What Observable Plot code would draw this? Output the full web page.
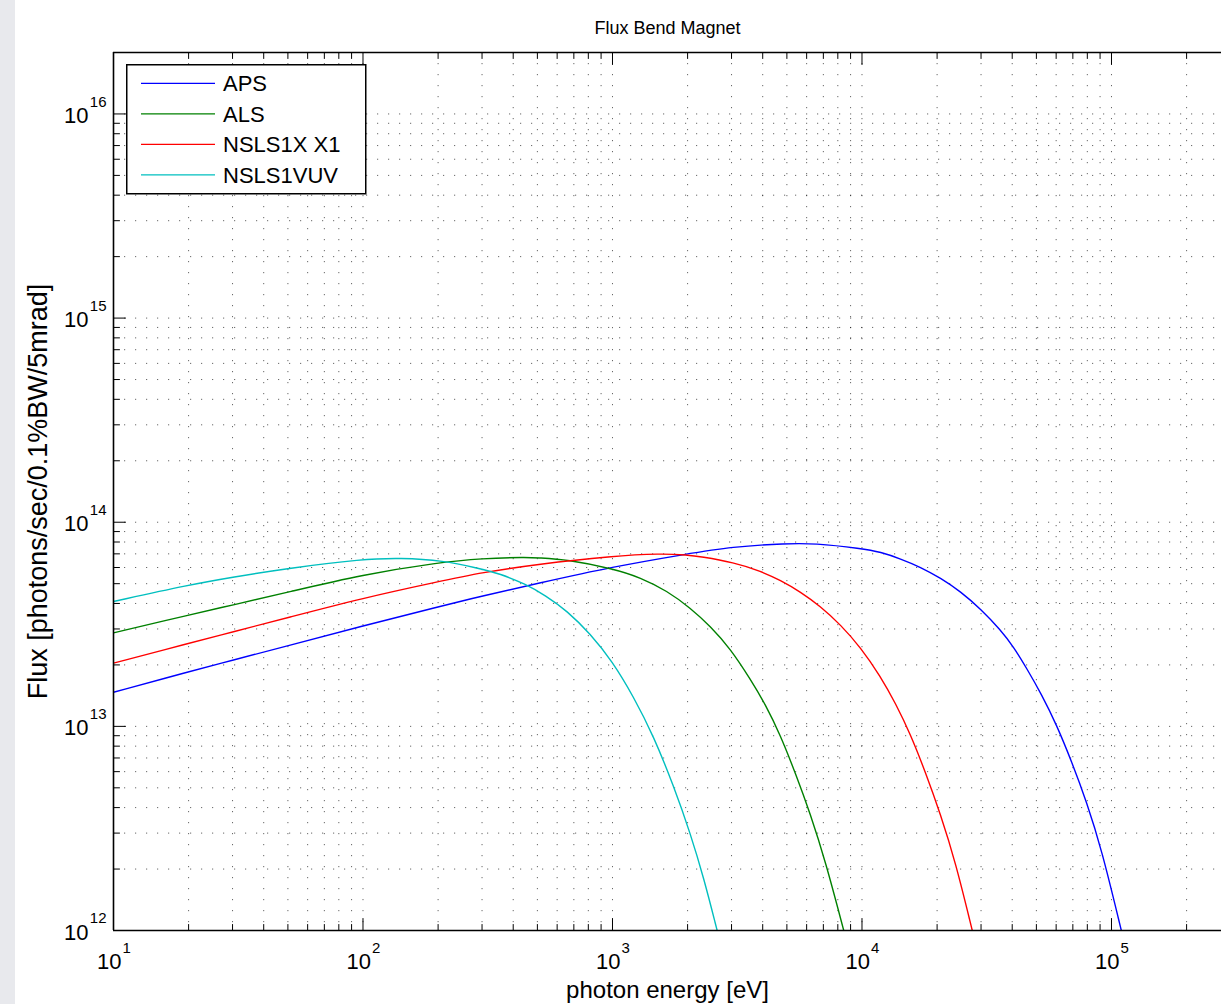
<!DOCTYPE html>
<html>
<head>
<meta charset="utf-8">
<script src="https://cdn.jsdelivr.net/npm/d3@7"></script>
<script src="https://cdn.jsdelivr.net/npm/@observablehq/plot@0.6"></script>
<style>
  body { margin: 0; background: #fff; }
  #wrap { position: relative; width: 1221px; height: 1004px; overflow: hidden; font-family: "Liberation Sans", Arial, Helvetica, sans-serif; }
  #strip { position: absolute; left: 0; top: 0; width: 15px; height: 1004px; background: #e8e9ed; }
  #legend { position: absolute; left: 126px; top: 64px; }
</style>
</head>
<body>
<div id="wrap"><div id="chart"></div><div id="strip"></div><div id="legend"></div></div>
<script>
// ---- data ----
const seriesNames = ["APS", "ALS", "NSLS1X X1", "NSLS1VUV"];
const seriesColors = ["#0000ff", "#008000", "#ff0000", "#00bfbf"];

const apsEnergy = [10, 20, 30, 50, 100, 200, 300, 500, 1000, 2000, 3000, 5000, 6390, 10000, 11870, 14270, 17160, 20640, 24830, 29870, 35920, 40610, 45650, 52460, 60260, 69180, 79470, 91280, 109500];
const apsFlux   = [1.47e13, 1.85e13, 2.11e13, 2.48e13, 3.11e13, 3.85e13, 4.35e13, 5.01e13, 6.05e13, 7.00e13, 7.58e13, 7.87e13, 7.89e13, 7.43e13, 7.15e13, 6.62e13, 6.03e13, 5.33e13, 4.58e13, 3.76e13, 2.97e13, 2.44e13, 1.93e13, 1.434e13, 1.017e13, 6.74e12, 4.27e12, 2.50e12, 1.0e12];

const alsEnergy = [10, 20, 30, 50, 100, 200, 300, 455, 500, 658, 1011, 1294, 1655, 2053, 2469, 2970, 3572, 4102, 4712, 5412, 6216, 7138, 8450];
const alsFlux   = [2.87e13, 3.51e13, 3.93e13, 4.54e13, 5.54e13, 6.34e13, 6.65e13, 6.74e13, 6.69e13, 6.57e13, 5.91e13, 5.36e13, 4.61e13, 3.80e13, 3.09e13, 2.40e13, 1.70e13, 1.281e13, 9.03e12, 5.89e12, 3.71e12, 2.18e12, 1.0e12];

const x1Energy = [10, 20, 30, 50, 100, 200, 300, 500, 1000, 1560, 2000, 2251, 3062, 3917, 4712, 5668, 6817, 8201, 9863, 11870, 13630, 15650, 17970, 20640, 23710, 27670];
const x1Flux   = [2.04e13, 2.55e13, 2.90e13, 3.41e13, 4.25e13, 5.11e13, 5.67e13, 6.23e13, 6.83e13, 7.03e13, 6.91e13, 6.79e13, 6.35e13, 5.77e13, 5.19e13, 4.56e13, 3.87e13, 3.15e13, 2.44e13, 1.757e13, 1.296e13, 9.14e12, 5.95e12, 3.71e12, 2.16e12, 1.0e12];

const vuvEnergy = [10, 20, 30, 50, 100, 141, 210.5, 286.5, 355.2, 447.5, 538.2, 658, 815, 996, 1216, 1463, 1760, 2053, 2321, 2627];
const vuvFlux   = [4.09e13, 4.93e13, 5.38e13, 5.95e13, 6.60e13, 6.69e13, 6.49e13, 5.97e13, 5.59e13, 4.98e13, 4.38e13, 3.68e13, 2.84e13, 2.09e13, 1.394e13, 8.93e12, 5.09e12, 2.98e12, 1.81e12, 1.0e12];

const xMajor = [1e1, 1e2, 1e3, 1e4, 1e5];
const xExp = ["1", "2", "3", "4", "5"];
const yMajor = [1e12, 1e13, 1e14, 1e15, 1e16];
const yExp = ["12", "13", "14", "15", "16"];
const xDomain = [10, 2.76e5];
const yDomain = [1e12, 2e16];

const titleText = "Flux Bend Magnet";
const xLabel = "photon energy [eV]";
const yLabel = "Flux [photons/sec/0.1%BW/5mrad]";

// ---- build tables ----
const energies = [apsEnergy, alsEnergy, x1Energy, vuvEnergy];
const fluxes = [apsFlux, alsFlux, x1Flux, vuvFlux];
const rows = seriesNames.flatMap((name, i) => energies[i].map((e, j) => ({series: name, energy: e, flux: fluxes[i][j]})));

const xMinor = [];
for (const d of xMajor) for (let m = 2; m <= 9; m++) if (d * m < xDomain[1]) xMinor.push(d * m);
const yMinor = [];
for (const d of yMajor) for (let m = 2; m <= 9; m++) if (d * m < yDomain[1]) yMinor.push(d * m);

const font = "Liberation Sans, Arial, Helvetica, sans-serif";
const tickShape = {draw(ctx, l) { ctx.moveTo(0, 0); ctx.lineTo(0, -l); }};
const tk = (anchor, rot, len) => ({frameAnchor: anchor, rotate: rot, length: len, anchor: "start", shape: tickShape, stroke: "#000", strokeWidth: 1});
const grid = {stroke: "#000", strokeOpacity: 0.6, strokeWidth: 1, strokeDasharray: "1.2,9.8"};
const txt = {fill: "#000", lineAnchor: "middle"};

const chart = Plot.plot({
  width: 1221,
  height: 1004,
  marginLeft: 113,
  marginRight: 0,
  marginTop: 52,
  marginBottom: 74,
  style: {background: "transparent", fontFamily: font, overflow: "visible"},
  x: {type: "log", domain: xDomain, axis: null},
  y: {type: "log", domain: yDomain, axis: null},
  color: {domain: seriesNames, range: seriesColors},
  marks: [
    Plot.ruleX([...xMajor, ...xMinor], {x: d => d, ...grid}),
    Plot.ruleY([...yMajor, ...yMinor], {y: d => d, ...grid}),
    Plot.line(rows, {x: "energy", y: "flux", z: "series", stroke: "series", strokeWidth: 1.4, curve: "basis", clip: true}),
    Plot.vector(xMajor, {x: d => d, ...tk("bottom", 0, 12)}),
    Plot.vector(xMinor, {x: d => d, ...tk("bottom", 0, 6)}),
    Plot.vector(xMajor, {x: d => d, ...tk("top", 180, 12)}),
    Plot.vector(xMinor, {x: d => d, ...tk("top", 180, 6)}),
    Plot.vector(yMajor, {y: d => d, ...tk("left", 90, 12)}),
    Plot.vector(yMinor, {y: d => d, ...tk("left", 90, 6)}),
    Plot.ruleY([yDomain[0]], {stroke: "#000", strokeWidth: 1.6}),
    Plot.ruleY([yDomain[1]], {stroke: "#000", strokeWidth: 1.6}),
    Plot.ruleX([xDomain[0]], {stroke: "#000", strokeWidth: 1.6}),
    Plot.text(xMajor, {x: d => d, text: () => "10", frameAnchor: "bottom", dy: 31, dx: 8, textAnchor: "end", fontSize: 22, ...txt}),
    Plot.text(xMajor, {x: d => d, text: (d, i) => xExp[i], frameAnchor: "bottom", dy: 18, dx: 9, textAnchor: "start", fontSize: 15, ...txt}),
    Plot.text(yMajor, {y: d => d, text: () => "10", frameAnchor: "left", dx: -25, dy: 2, textAnchor: "end", fontSize: 22, ...txt}),
    Plot.text(yMajor, {y: d => d, text: (d, i) => yExp[i], frameAnchor: "left", dx: -7, dy: -12, textAnchor: "end", fontSize: 15, ...txt}),
    Plot.text([titleText], {frameAnchor: "top", dy: -24, fontSize: 18, textAnchor: "middle", ...txt}),
    Plot.text([xLabel], {frameAnchor: "bottom", dy: 60, fontSize: 24, textAnchor: "middle", ...txt}),
    Plot.text([yLabel], {frameAnchor: "left", dx: -75, rotate: -90, fontSize: 27, textAnchor: "middle", ...txt})
  ]
});
document.getElementById("chart").appendChild(chart);

// ---- legend (overlay box, MATLAB style) ----
const ns = "http://www.w3.org/2000/svg";
const lg = document.createElementNS(ns, "svg");
lg.setAttribute("width", 241);
lg.setAttribute("height", 131);
const box = document.createElementNS(ns, "rect");
box.setAttribute("x", 0.75); box.setAttribute("y", 0.75);
box.setAttribute("width", 239); box.setAttribute("height", 129);
box.setAttribute("fill", "#fff"); box.setAttribute("stroke", "#000"); box.setAttribute("stroke-width", 1.5);
lg.appendChild(box);
seriesNames.forEach((name, i) => {
  const cy = 19.3 + i * 30.5;
  const ln = document.createElementNS(ns, "line");
  ln.setAttribute("x1", 15); ln.setAttribute("x2", 89);
  ln.setAttribute("y1", cy); ln.setAttribute("y2", cy);
  ln.setAttribute("stroke", seriesColors[i]); ln.setAttribute("stroke-width", 1.3);
  lg.appendChild(ln);
  const tx = document.createElementNS(ns, "text");
  tx.setAttribute("x", 97); tx.setAttribute("y", cy + 7.8);
  tx.setAttribute("font-size", 22); tx.setAttribute("font-family", font);
  tx.textContent = name;
  lg.appendChild(tx);
});
document.getElementById("legend").appendChild(lg);
</script>
</body>
</html>
